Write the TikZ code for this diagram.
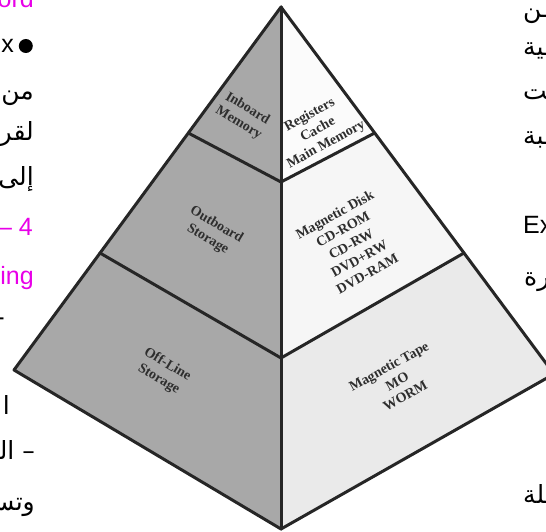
\documentclass[tikz,border=0pt]{standalone}
\usepackage{fontspec}
\setmainfont{Liberation Serif}
\newfontfamily\latinsans{Liberation Sans}
\newfontfamily\arabicfont[Script=Arabic]{DejaVu Sans}
\TeXXeTstate=1
\definecolor{edgec}{HTML}{262626}
\definecolor{leftface}{HTML}{A8A8A8}
\definecolor{rtop}{HTML}{FBFBFB}
\definecolor{rmid}{HTML}{F6F6F6}
\definecolor{rbot}{HTML}{EAEAEA}
\definecolor{labelc}{HTML}{2E2E2E}
\definecolor{mag}{RGB}{232,0,232}
\tikzset{
  edgeline/.style={draw=edgec, line width=3pt, line join=round, line cap=round},
  facelabel/.style={font=\bfseries\fontsize{14}{16.8}\selectfont, text=labelc, align=center, inner sep=0pt},
  latfrag/.style={font=\latinsans\fontsize{25}{25}\selectfont, inner sep=0pt},
  arfrag/.style={font=\arabicfont\fontsize{25}{25}\selectfont, inner sep=0pt},
}
\begin{document}
\begin{tikzpicture}[x=1pt,y=-1pt]
\useasboundingbox (0,0) rectangle (546,532);
\begin{scope}
\clip (0,0) rectangle (546,532);
% key points
\coordinate (A) at (281,7);
\coordinate (L) at (14,370);
\coordinate (R) at (554,374);
\coordinate (B) at (281,529);
\coordinate (P1) at (188.3,133);
\coordinate (Q1) at (374.7,133);
\coordinate (C1) at (281,182);
\coordinate (P2) at (100,253);
\coordinate (Q2) at (464,253);
\coordinate (C2) at (281,358);
% faces
\fill[leftface] (A) -- (L) -- (B) -- cycle;
\fill[rtop] (A) -- (Q1) -- (C1) -- cycle;
\fill[rmid] (Q1) -- (Q2) -- (C2) -- (C1) -- cycle;
\fill[rbot] (Q2) -- (R) -- (B) -- (C2) -- cycle;
% lines
\draw[edgeline] (A) -- (L) -- (B) -- (R) -- cycle;
\draw[edgeline] (A) -- (B);
\draw[edgeline] (P1) -- (C1) -- (Q1);
\draw[edgeline] (P2) -- (C2) -- (Q2);
% labels
\node[facelabel, rotate=-31] (inb) at (243,116) {Inboard\\Memory};
\node[facelabel, rotate=29] (reg) at (318,130) {Registers\\Cache\\Main Memory};
\node[facelabel, rotate=-31] (outb) at (212,232) {Outboard\\Storage};
\node[facelabel, rotate=29] (disk) at (351,244) {Magnetic Disk\\CD-ROM\\CD-RW\\DVD+RW\\DVD-RAM};
\node[facelabel, rotate=-31] (offl) at (163,372) {Off-Line\\Storage};
\node[facelabel, rotate=29] (tape) at (397,381) {Magnetic Tape\\MO\\WORM};
% left column fragments
\node[latfrag, text=mag, anchor=base east] (l1) at (34,8) {ord};
\fill (25.8,46) circle (7);
\node[latfrag, anchor=base east] (l2) at (14,53) {x};
\node[arfrag, anchor=base east] (l3) at (34,100) {\beginR من\endR};
\node[arfrag, anchor=base east] (l4) at (34,140) {\beginR لقر\endR};
\node[arfrag, anchor=base east] (l5) at (34,185) {\beginR إلى\endR};
\node[latfrag, text=mag, anchor=base east] (l6) at (33,235) {– 4};
\node[latfrag, text=mag, anchor=base east] (l7) at (34,284) {ing};
\node[latfrag, anchor=base east] (l8) at (5,325) {-};
\node[arfrag, anchor=base east] (l9) at (10,414) {\beginR ا\endR};
\node[arfrag, anchor=base east] (l10) at (35,459) {\beginR – الـــ\endR};
\node[arfrag, anchor=base east] (l11) at (35,510) {\beginR وتســـ\endR};
% right column fragments
\node[arfrag, anchor=base west] (r1) at (523,18) {\beginR ـــن\endR};
\node[arfrag, anchor=base west] (r2) at (523,56) {\beginR ـــية\endR};
\node[arfrag, anchor=base west] (r3) at (523,100) {\beginR ـــت\endR};
\node[arfrag, anchor=base west] (r4) at (523,145) {\beginR ـــبة\endR};
\node[latfrag, anchor=base west] (r5) at (523,233) {Ex};
\node[arfrag, anchor=base west] (r6) at (524,285) {\beginR ـــرة\endR};
\node[arfrag, anchor=base west] (r7) at (523,503) {\beginR ـــلة\endR};
\end{scope}
\end{tikzpicture}
\end{document}
